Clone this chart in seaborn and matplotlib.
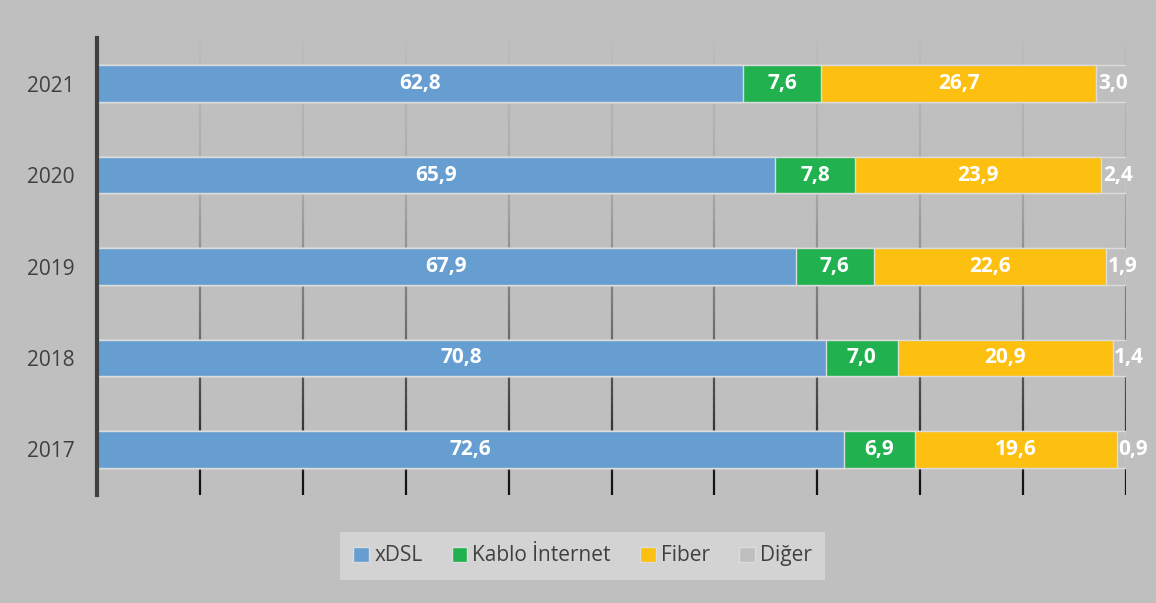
import numpy as np
import pandas as pd
import matplotlib
matplotlib.use("Agg")
import matplotlib.pyplot as plt
import matplotlib.colors as mcolors
from matplotlib.patches import Patch
import seaborn as sns

# ---------------- data ----------------
years = ["2021", "2020", "2019", "2018", "2017"]
xdsl = [62.8, 65.9, 67.9, 70.8, 72.6]
kablo = [7.6, 7.8, 7.6, 7.0, 6.9]
fiber = [26.7, 23.9, 22.6, 20.9, 19.6]
diger = [3.0, 2.4, 1.9, 1.4, 0.9]
series_names = ["xDSL", "Kablo İnternet", "Fiber", "Diğer"]
x_ticks = [0, 10, 20, 30, 40, 50, 60, 70, 80, 90, 100]

# ---------------- style ----------------
BG = "#bfbfbf"
colors = ["#679ED2", "#21B14F", "#FDC010", "#bfbfbf"]
TXT = "#404040"

sns.set_theme(style="white")
plt.rcParams["font.family"] = ["Open Sans", "DejaVu Sans"]

fig = plt.figure(figsize=(11.56, 6.03), dpi=100, facecolor=BG)
ax = fig.add_axes([97 / 1156, 1 - 495 / 603, (1126 - 97) / 1156, (495 - 38) / 603])
ax.set_facecolor(BG)

df = pd.DataFrame({"year": years, "xDSL": xdsl, "Kablo İnternet": kablo,
                   "Fiber": fiber, "Diğer": diger})
vals = df[series_names].to_numpy()
cum = np.cumsum(vals, axis=1)

# gradient gridlines (light at top, dark at bottom)
cmap = mcolors.LinearSegmentedColormap.from_list("g", ["#bcbcbc", "#a8a8a8", "#6a6a6a", "#101010"])
nseg = 60
ys = np.linspace(-0.5, len(years) - 0.5, nseg + 1)
for xt in x_ticks[1:]:
    for i in range(nseg):
        ax.plot([xt, xt], [ys[i], ys[i + 1]], color=cmap(i / (nseg - 1)),
                lw=1.6, solid_capstyle="butt", zorder=0.5)

# stacked bars via overlaid cumulative totals
for j in range(len(series_names) - 1, -1, -1):
    sns.barplot(x=cum[:, j], y=years, order=years, orient="h", color=colors[j],
                width=0.4, edgecolor="#dcdcdc", linewidth=1.0, saturation=1,
                ax=ax, zorder=2)

# segment labels
for i in range(len(years)):
    for j in range(len(series_names)):
        left = cum[i, j] - vals[i, j]
        xc = left + vals[i, j] / 2
        if j == 3:
            xc = cum[i, 2] + 1.6
        ax.text(xc, i, f"{vals[i, j]:.1f}".replace(".", ","), ha="center", va="center",
                color="white", fontsize=15, fontweight="bold", zorder=5, clip_on=False)

ax.set_xlim(0, 100)
ax.set_ylim(len(years) - 0.5, -0.5)
ax.set_xticks([])
ax.set_xlabel("")
ax.set_ylabel("")
ax.tick_params(axis="y", length=0, pad=16, labelsize=15, labelcolor=TXT)
for s in ["top", "right", "bottom"]:
    ax.spines[s].set_visible(False)
ax.spines["left"].set_color("#404040")
ax.spines["left"].set_linewidth(3)
ax.spines["left"].set_zorder(6)

handles = [Patch(facecolor=c, edgecolor="#dcdcdc", linewidth=1.0) for c in colors]
leg = fig.legend(handles, series_names, loc="center", bbox_to_anchor=(0.504, 0.078),
                 ncol=4, frameon=True, facecolor="#d3d3d3", edgecolor="none",
                 fancybox=False, framealpha=1, fontsize=15, handlelength=0.75,
                 handleheight=0.75, handletextpad=0.25, columnspacing=1.4,
                 borderpad=0.65, labelcolor=TXT)

fig.savefig("out.png", dpi=100, facecolor=BG)
